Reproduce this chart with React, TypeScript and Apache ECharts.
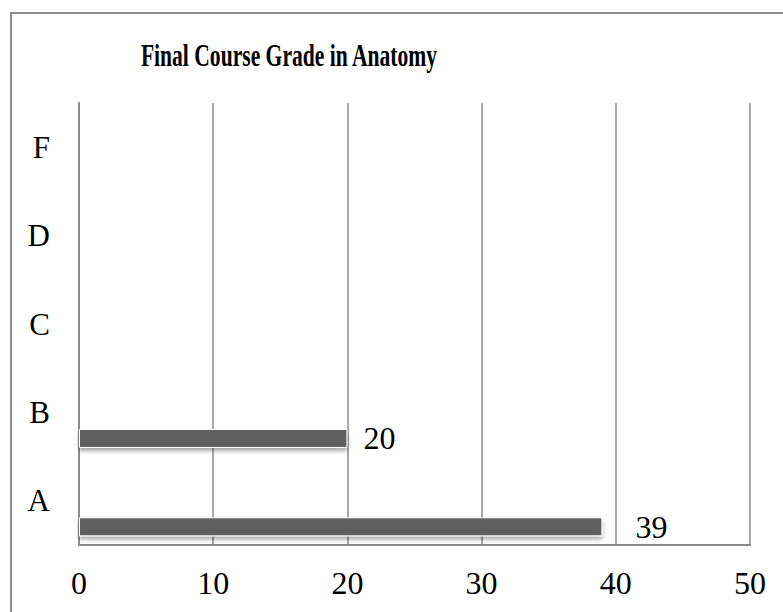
import React, { useEffect, useRef } from "react";
import * as echarts from "echarts";

const title = "Final Course Grade in Anatomy";
const categories = ["A", "B", "C", "D", "F"];
const grades = [39, 20, 0, 0, 0];
const xTicks = [0, 10, 20, 30, 40, 50];

const FONT = "'Liberation Serif', 'Times New Roman', serif";

export default function App() {
  const ref = useRef<HTMLDivElement>(null);
  useEffect(() => {
    if (!ref.current) return;
    const chart = echarts.init(ref.current, null, { renderer: "svg" });
    chart.setOption({
      animation: false,
      backgroundColor: "#ffffff",
      graphic: [
        {
          type: "rect",
          shape: { x: 11, y: 13, width: 800, height: 700 },
          style: { fill: "none", stroke: "#8c8c8c", lineWidth: 2 },
          silent: true,
        },
        {
          type: "text",
          x: 289,
          y: 56,
          scaleX: 0.72,
          scaleY: 1.02,
          style: {
            text: title,
            fontFamily: FONT,
            fontWeight: "bold",
            fontSize: 30,
            fill: "#000",
            align: "center",
            verticalAlign: "middle",
          },
        },
      ],
      grid: { left: 79, right: 33, top: 103, bottom: 67, containLabel: false },
      xAxis: {
        type: "value",
        min: xTicks[0],
        max: xTicks[xTicks.length - 1],
        interval: 10,
        axisLine: { show: true, lineStyle: { color: "#8c8c8c", width: 2 } },
        axisTick: { show: false },
        splitLine: { show: true, lineStyle: { color: "#8c8c8c", width: 1.5 } },
        axisLabel: { fontFamily: FONT, fontSize: 32, color: "#000", margin: 22 },
      },
      yAxis: {
        type: "category",
        data: categories,
        axisLine: { show: true, lineStyle: { color: "#8c8c8c", width: 2 } },
        axisTick: { show: false },
        axisLabel: { fontFamily: FONT, fontSize: 31, color: "#000", margin: 29 },
      },
      series: [
        {
          type: "bar",
          name: "empty",
          data: grades.map(() => 0),
          barWidth: 19,
          barGap: "174%",
          itemStyle: { color: "transparent" },
        },
        {
          type: "bar",
          name: "Grades",
          data: grades.map((v, i) => ({
            value: v,
            label: { offset: [i === 0 ? 17 : 0, 0] },
          })),
          barWidth: 19,
          barGap: "174%",
          itemStyle: {
            color: "#5f5f5f",
            borderColor: "#ffffff",
            borderWidth: 1,
            shadowColor: "rgba(0,0,0,0.35)",
            shadowBlur: 4,
            shadowOffsetY: 3,
          },
          label: {
            show: true,
            position: "right",
            distance: 16,
            fontFamily: FONT,
            fontSize: 32,
            color: "#000",
            formatter: (p: any) => (p.value ? String(p.value) : ""),
          },
        },
      ],
    });
    return () => chart.dispose();
  }, []);
  return <div ref={ref} style={{ width: 783, height: 612, position: "absolute", left: 0, top: 0 }} />;
}
